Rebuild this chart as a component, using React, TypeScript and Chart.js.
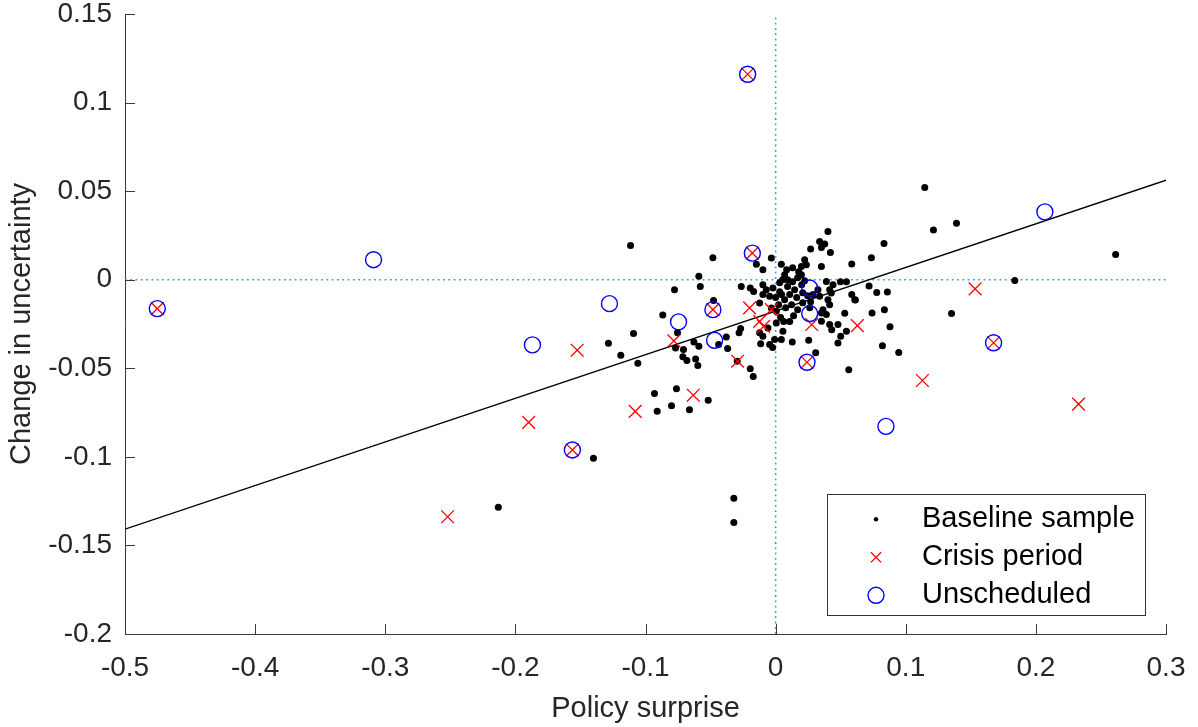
import React, { useEffect, useRef } from 'react';
import { Chart, registerables } from 'chart.js';

Chart.register(...registerables);

// ---------- axis setup ----------
const xLimits = [-0.5, 0.3];
const yLimits = [-0.2, 0.15];
const xTickValues = [-0.5, -0.4, -0.3, -0.2, -0.1, 0, 0.1, 0.2, 0.3];
const xTickLabels = ['-0.5', '-0.4', '-0.3', '-0.2', '-0.1', '0', '0.1', '0.2', '0.3'];
const yTickValues = [-0.2, -0.15, -0.1, -0.05, 0, 0.05, 0.1, 0.15];
const yTickLabels = ['-0.2', '-0.15', '-0.1', '-0.05', '0', '0.05', '0.1', '0.15'];
const xTitle = 'Policy surprise';
const yTitle = 'Change in uncertainty';
const seriesLabels = ['Baseline sample', 'Crisis period', 'Unscheduled'];

// ---------- data ----------
const baselineX = [
  -0.1115, -0.0482, -0.0777, -0.059, -0.0579, -0.0477, -0.0867, -0.1092, -0.1285, -0.119,
  -0.1059, -0.0754, -0.0769, -0.0708, -0.0713, -0.0682, -0.0628, -0.059, -0.0615, -0.0598,
  -0.0438, -0.0379, -0.0369, -0.0295, -0.0281, -0.0269, -0.0195, -0.0172, -0.0931, -0.0762,
  -0.091, -0.08, -0.0662, -0.0518, -0.0321, -0.0321, -0.2131, -0.14, 0.1146, 0.1213,
  0.139, 0.2613, 0.1838, 0.1352, 0.0833, 0.0736, 0.0585, 0.0498, 0.0544, 0.0718,
  0.0777, 0.0859, 0.0613, 0.0741, 0.0836, 0.0879, 0.0821, 0.0946, 0.0562, 0.0402,
  0.0338, 0.0377, 0.0352, 0.0269, 0.0421, -0.0033, -0.0148, -0.0098, 0.0044, 0.0223,
  0.0198, 0.0236, 0.0352, -0.0264, -0.0195, -0.0169, -0.0098, -0.0072, -0.0021, 0.039,
  0.0441, 0.0415, 0.0428, 0.0402, 0.0415, 0.0325, 0.0287, 0.0338, -0.0046, -0.0098,
  -0.0123, -0.0033, 0.0005, 0.0608, 0.0352, 0.039, 0.0352, 0.0415, 0.0479, 0.0544,
  0.0005, 0.0056, -0.0059, -0.0123, -0.0098, -0.0008, 0.0044, 0.0128, -0.0046, -0.0115,
  0.05, 0.0479, 0.0364, 0.0431, 0.0308, 0.0254, -0.0023, 0.0062, 0.0585, 0.0531,
  0.0069, 0.0054, 0.0131, 0.0198, 0.0169, 0.0031, 0.0092, 0.0146, 0.02, 0.0108,
  0.0069, 0.0162, 0.0208, 0.0123, 0.0031, 0.0246, 0.0269, 0.0077, 0.0169, 0.0138,
  0.0038, 0.0108, 0.0085, 0.0131, 0.0177, 0.0223, 0.0, 0.0023, 0.0262, 0.0208,
  0.0092, 0.0046,
];
const baselineY = [
  0.0193, 0.0124, -0.0056, 0.0019, -0.0038, -0.0117, -0.0199, -0.0304, -0.0359, -0.0426,
  -0.0471, -0.03, -0.0385, -0.0394, -0.0435, -0.0456, -0.0351, -0.0376, -0.0447, -0.0484,
  -0.0366, -0.0323, -0.0389, -0.046, -0.0299, -0.0276, -0.0503, -0.0546, -0.0642, -0.0615,
  -0.0743, -0.0711, -0.0734, -0.0681, -0.1233, -0.137, -0.1285, -0.1008, 0.052, 0.028,
  0.0319, 0.0142, -0.0004, -0.0191, 0.0204, 0.0124, 0.0089, -0.0011, -0.0011, -0.0036,
  -0.0072, -0.0069, -0.0114, -0.0188, -0.0169, -0.0266, -0.0373, -0.0411, -0.0508, 0.0272,
  0.0216, 0.0201, 0.0182, 0.0173, 0.0154, 0.0122, 0.0088, 0.0056, 0.0088, 0.0113,
  0.0075, 0.0084, 0.0075, -0.0038, -0.0047, -0.0066, -0.0028, -0.0056, -0.0047, -0.001,
  -0.0028, -0.0056, -0.0075, -0.0113, -0.0141, -0.0056, -0.0084, -0.0094, -0.0094, -0.0084,
  -0.0131, -0.0159, -0.0178, -0.0113, -0.0188, -0.0197, -0.0235, -0.0253, -0.0253, -0.0291,
  -0.0244, -0.0291, -0.0272, -0.03, -0.0319, -0.0338, -0.0338, -0.0351, -0.0366, -0.0362,
  -0.0319, -0.0357, -0.0169, -0.0282, -0.0413, -0.0342, -0.0383, -0.0236, -0.0084, -0.019,
  0.0028, 0.0, -0.0011, 0.0028, 0.0011, -0.0017, -0.0039, -0.0056, -0.0028, -0.0084,
  -0.0113, -0.0101, -0.0073, -0.0141, -0.0068, -0.009, -0.0124, -0.0158, -0.0169, -0.0203,
  -0.0214, -0.0236, 0.0056, 0.0068, 0.0045, -0.0006, -0.0101, -0.0141, -0.0158, -0.013,
  0.0, -0.0084,
];
const crisisX = [
  -0.4752, -0.2521, -0.1898, -0.1562, -0.1525, -0.1079, -0.0633, -0.0782, -0.0482, -0.0292,
  -0.0215, -0.0179, -0.02, -0.0033, -0.0123, -0.0092, 0.0277, 0.0241, 0.0628, 0.1533,
  0.1128, 0.2328, 0.1675,
];
const crisisY = [
  -0.0163, -0.1338, -0.0805, -0.0961, -0.0398, -0.0743, -0.0652, -0.0345, -0.0169, -0.046,
  0.116, 0.015, -0.0159, -0.0169, -0.0235, -0.0263, -0.0253, -0.0466, -0.0259, -0.0052,
  -0.0569, -0.0702, -0.0356,
];
const unscheduledX = [
  -0.4752, -0.309, -0.1869, -0.1562, -0.1277, -0.0746, -0.0469, -0.0482, -0.0179, -0.0215,
  0.0262, 0.0262, 0.0241, 0.0848, 0.2069, 0.1675,
];
const unscheduledY = [
  -0.0163, 0.0113, -0.0368, -0.0961, -0.0135, -0.0238, -0.0342, -0.0169, 0.015, 0.116,
  -0.0047, -0.0191, -0.0466, -0.0828, 0.0383, -0.0356,
];
const fitSlope = 0.2462;
const fitIntercept = -0.0177;

// ---------- styles ----------
const FONT = "'Liberation Sans', Arial, Helvetica, sans-serif";
const AXIS_COLOR = '#3a3a3a';
const TEXT_COLOR = '#262626';
const REF_COLOR = '#3d9ad9';
const TICK_LEN = 10;

const toPoints = (xs: number[], ys: number[]) => xs.map((x, i) => ({ x, y: ys[i] }));

const decorPlugin = {
  id: 'matlabDecor',
  afterDraw(chart: any) {
    const { ctx, chartArea, scales } = chart;
    ctx.save();
    // inward tick marks
    ctx.strokeStyle = AXIS_COLOR;
    ctx.lineWidth = 1;
    xTickValues.forEach((v) => {
      const px = Math.round(scales.x.getPixelForValue(v)) + 0.5;
      ctx.beginPath();
      ctx.moveTo(px, chartArea.bottom);
      ctx.lineTo(px, chartArea.bottom - TICK_LEN);
      ctx.stroke();
    });
    yTickValues.forEach((v) => {
      const py = Math.round(scales.y.getPixelForValue(v)) + 0.5;
      ctx.beginPath();
      ctx.moveTo(chartArea.left, py);
      ctx.lineTo(chartArea.left + TICK_LEN, py);
      ctx.stroke();
    });

    // legend box (inside, lower right)
    const w = 318;
    const h = 121;
    const right = chartArea.right - 21;
    const bottom = chartArea.bottom - 19;
    const left = right - w;
    const top = bottom - h;
    ctx.fillStyle = '#ffffff';
    ctx.fillRect(left, top, w, h);
    ctx.strokeStyle = '#333333';
    ctx.lineWidth = 1;
    ctx.strokeRect(Math.round(left) + 0.5, Math.round(top) + 0.5, w, h);

    const legendSets = chart.data.datasets.filter((d: any) => seriesLabels.includes(d.label));
    legendSets.forEach((d: any, i: number) => {
      const cy = top + 25.3 + i * 38;
      const cx = left + 49;
      ctx.beginPath();
      if (d.pointStyle === 'crossRot') {
        const r = d.pointRadius * Math.SQRT1_2 * 0.8;
        ctx.strokeStyle = d.borderColor;
        ctx.lineWidth = d.borderWidth;
        ctx.moveTo(cx - r, cy - r);
        ctx.lineTo(cx + r, cy + r);
        ctx.moveTo(cx + r, cy - r);
        ctx.lineTo(cx - r, cy + r);
        ctx.stroke();
      } else if (d.borderWidth > 0) {
        ctx.strokeStyle = d.borderColor;
        ctx.lineWidth = d.borderWidth;
        ctx.arc(cx, cy, d.pointRadius, 0, Math.PI * 2);
        ctx.stroke();
      } else {
        ctx.fillStyle = d.backgroundColor;
        ctx.arc(cx, cy, 2.2, 0, Math.PI * 2);
        ctx.fill();
      }
      ctx.fillStyle = '#000000';
      ctx.font = `29px ${FONT}`;
      ctx.textAlign = 'left';
      ctx.textBaseline = 'middle';
      ctx.fillText(d.label, left + 95, cy);
    });
    ctx.restore();
  },
};

export default function App() {
  const ref = useRef<HTMLCanvasElement | null>(null);

  useEffect(() => {
    if (!ref.current) return;
    const fitX = xLimits;
    const chart = new Chart(ref.current, {
      type: 'scatter',
      data: {
        datasets: [
          {
            label: seriesLabels[0],
            data: toPoints(baselineX, baselineY),
            pointStyle: 'circle',
            pointRadius: 3.5,
            backgroundColor: '#000000',
            borderColor: '#000000',
            borderWidth: 0,
            order: 3,
          },
          {
            label: seriesLabels[1],
            data: toPoints(crisisX, crisisY),
            pointStyle: 'crossRot',
            pointRadius: 9,
            backgroundColor: 'transparent',
            borderColor: '#ff0000',
            borderWidth: 1.3,
            order: 2,
          },
          {
            label: seriesLabels[2],
            data: toPoints(unscheduledX, unscheduledY),
            pointStyle: 'circle',
            pointRadius: 8,
            backgroundColor: 'transparent',
            borderColor: '#0000ff',
            borderWidth: 1.4,
            order: 1,
          },
          {
            label: 'fit',
            data: fitX.map((x) => ({ x, y: fitIntercept + fitSlope * x })),
            showLine: true,
            pointRadius: 0,
            borderColor: '#000000',
            borderWidth: 1.4,
            order: 4,
          },
          {
            label: 'zeroX',
            data: xLimits.map((x) => ({ x, y: 0 })),
            showLine: true,
            pointRadius: 0,
            borderColor: REF_COLOR,
            borderWidth: 1.6,
            borderDash: [1.8, 3.5],
            order: 5,
          },
          {
            label: 'zeroY',
            data: yLimits.map((y) => ({ x: 0, y })),
            showLine: true,
            pointRadius: 0,
            borderColor: REF_COLOR,
            borderWidth: 1.6,
            borderDash: [1.8, 3.5],
            order: 5,
          },
        ] as any,
      },
      options: {
        animation: false,
        responsive: false,
        events: [],
        layout: { padding: { left: 0, right: 32, top: 14, bottom: 0 } },
        plugins: {
          legend: { display: false },
          tooltip: { enabled: false },
        },
        scales: {
          x: {
            type: 'linear',
            min: xLimits[0],
            max: xLimits[1],
            afterBuildTicks: (s: any) => {
              s.ticks = xTickValues.map((v) => ({ value: v }));
            },
            afterFit: (s: any) => {
              s.height = 93;
              s.paddingLeft = 0;
              s.paddingRight = 0;
            },
            grid: { display: false, drawTicks: false },
            border: { display: true, color: AXIS_COLOR, width: 1 },
            ticks: {
              autoSkip: false,
              maxRotation: 0,
              padding: 17.5,
              color: TEXT_COLOR,
              font: { family: FONT, size: 28 },
              callback: (v: any) => xTickLabels[xTickValues.indexOf(Number(v))] ?? '',
            },
            title: {
              display: true,
              text: xTitle,
              color: TEXT_COLOR,
              font: { family: FONT, size: 29 },
              padding: { top: 0, bottom: 1 },
            },
          },
          y: {
            type: 'linear',
            min: yLimits[0],
            max: yLimits[1],
            afterBuildTicks: (s: any) => {
              s.ticks = yTickValues.map((v) => ({ value: v }));
            },
            afterFit: (s: any) => {
              s.width = 125;
              s.paddingTop = 0;
              s.paddingBottom = 0;
            },
            grid: { display: false, drawTicks: false },
            border: { display: true, color: AXIS_COLOR, width: 1 },
            ticks: {
              autoSkip: false,
              padding: 13,
              color: TEXT_COLOR,
              font: { family: FONT, size: 28 },
              callback: (v: any) => yTickLabels[yTickValues.indexOf(Number(v))] ?? '',
            },
            title: {
              display: true,
              text: yTitle,
              color: TEXT_COLOR,
              font: { family: FONT, size: 29 },
              padding: { top: 5, bottom: 0 },
            },
          },
        },
      },
      plugins: [decorPlugin],
    } as any);
    return () => chart.destroy();
  }, []);

  return (
    <div style={{ position: 'fixed', left: 0, top: 0, width: 1198, height: 727, background: '#ffffff' }}>
      <canvas ref={ref} width={1198} height={727} style={{ display: 'block', width: 1198, height: 727 }} />
    </div>
  );
}
